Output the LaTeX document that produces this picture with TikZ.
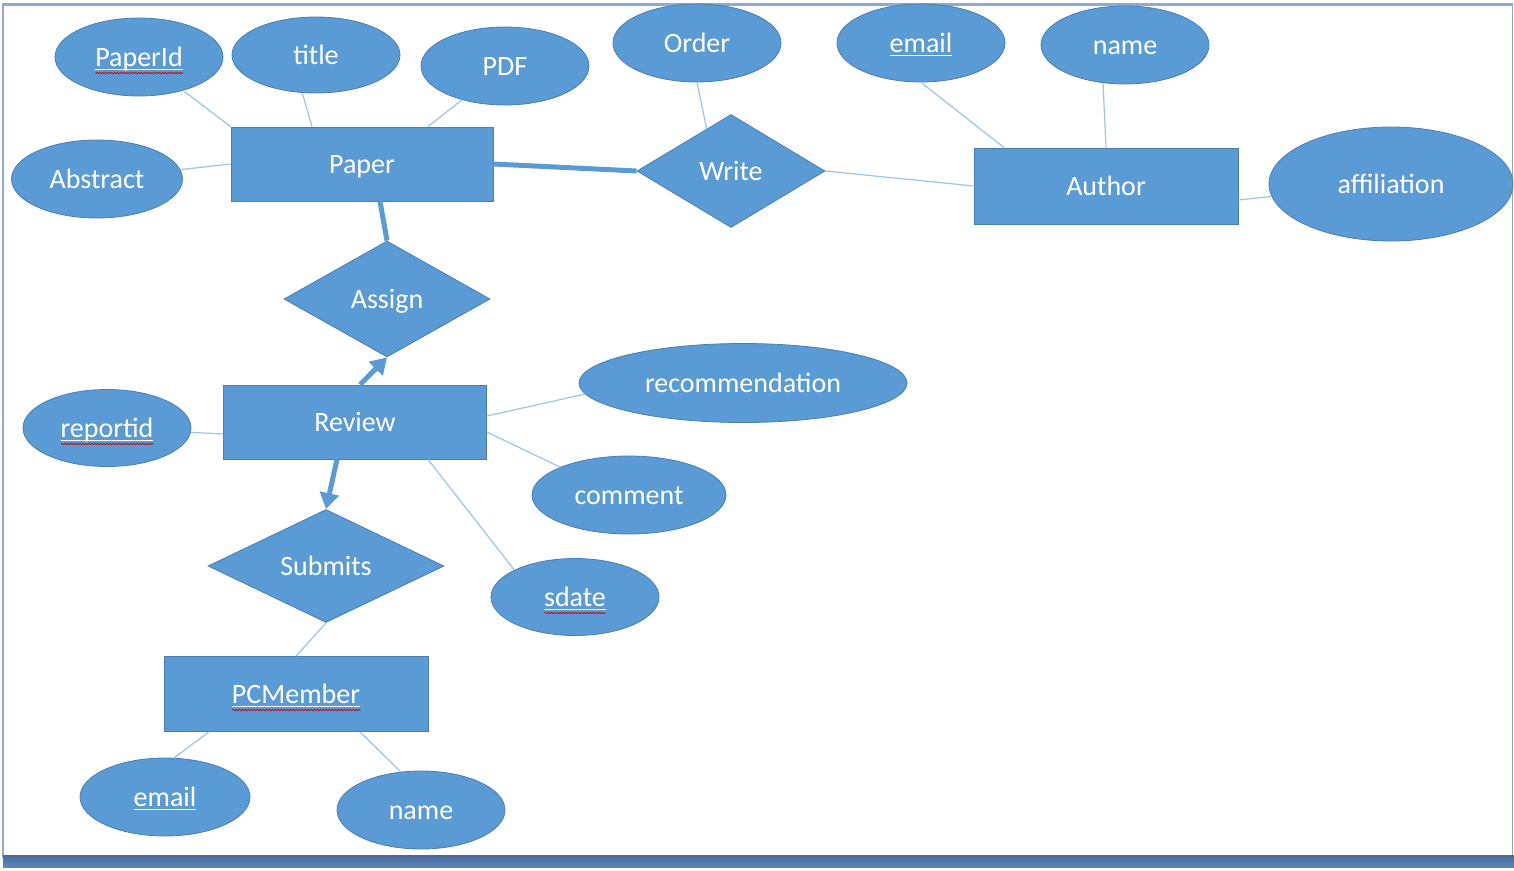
\documentclass[tikz,border=0pt]{standalone}
\usepackage{fontspec}
\setmainfont{Carlito}
\usetikzlibrary{shapes.geometric,arrows.meta,decorations.pathmorphing}

\definecolor{erfill}{HTML}{5B9BD5}
\definecolor{erborder}{HTML}{4A7EB0}
\definecolor{erline}{HTML}{9DC3E6}
\definecolor{framecol}{HTML}{8EA9D4}
\definecolor{bandtop}{HTML}{4A6896}
\definecolor{bandbot}{HTML}{5C86C0}

% underlined key attribute, and the red spell-check wave
\newsavebox\wordbox
\newcommand\keyattr[1]{\sbox\wordbox{#1}\rlap{\usebox\wordbox}\rule[-3.5pt]{\wd\wordbox}{1.1pt}}
\newcommand\typo[1]{\sbox\wordbox{\keyattr{#1}}\makebox[0pt][l]{\tikz[baseline=0pt,x=1pt,y=1pt]\draw[red!80!black,line width=0.7pt,decorate,decoration={snake,amplitude=0.8pt,segment length=3pt}] (0,-6.5) -- (\the\wd\wordbox,-6.5);}\usebox\wordbox}

\begin{document}
\begin{tikzpicture}[x=1pt,y=-1pt,
  every node/.style={font=\fontsize{28}{34}\selectfont, text=white, text height=22pt, text depth=3pt},
  entity/.style={rectangle, fill=erfill, draw=erborder, line width=0.8pt, minimum width=263pt, minimum height=74pt, inner sep=0pt},
  attr/.style={ellipse, fill=erfill, draw=erborder, line width=0.8pt, minimum width=168pt, minimum height=78pt, inner sep=0pt},
  rel/.style={diamond, fill=erfill, draw=erborder, line width=0.8pt, inner sep=0pt, aspect=1.7},
  link/.style={draw=erline, line width=1.2pt},
  heavy/.style={draw=erfill, line width=5pt},
  heavyarrow/.style={heavy, -{Triangle[width=19pt,length=16pt]}}]
\useasboundingbox (0,0) rectangle (1514,870);

% frame of the slide
\draw[framecol, line width=1.5pt] (3,858) -- (3,4) -- (1512.5,4) -- (1512.5,858);
\draw[framecol, line width=2.5pt] (3,4.5) -- (1512.5,4.5);
\shade[top color=bandtop, bottom color=bandbot] (3,855) rectangle (1514,867);

% entities
\node[entity, minimum width=262pt] (paper) at (362,164) {Paper};
\node[entity, minimum width=264pt, minimum height=76pt] (author) at (1106,186) {Author};
\node[entity] (review) at (355,422) {Review};
\node[entity, minimum width=264pt, minimum height=75pt] (pcmember) at (296,694) {\typo{PCMember}};

% relationships
\node[rel, minimum width=188pt, minimum height=113pt] (write) at (731,171) {Write};
\node[rel, minimum width=206pt, minimum height=116pt] (assign) at (387,299) {Assign};
\node[rel, minimum width=236pt, minimum height=113pt] (submits) at (326,566) {Submits};

% attributes
\node[attr] (paperid) at (139,57) {\typo{PaperId}};
\node[attr, minimum height=76pt] (title) at (316,55) {title};
\node[attr] (pdf) at (505,66) {PDF};
\node[attr, minimum width=171pt] (abstract) at (97,179) {Abstract};
\node[attr] (order) at (697,43) {Order};
\node[attr] (aemail) at (921,43) {\keyattr{email}};
\node[attr] (aname) at (1125,45) {name};
\node[attr, minimum width=244pt, minimum height=114pt] (affil) at (1391,184) {affiliation};
\node[attr, minimum height=77pt] (reportid) at (107,428) {\typo{reportid}};
\node[attr, minimum width=328pt, minimum height=79pt] (recomm) at (743,383) {recommendation};
\node[attr, minimum width=194pt] (comment) at (629,495) {comment};
\node[attr, minimum height=77pt] (sdate) at (575,597) {\typo{sdate}};
\node[attr, minimum width=170pt] (pemail) at (165,797) {\keyattr{email}};
\node[attr] (pname) at (421,810) {name};

% attribute links
\draw[link] (paperid) -- (paper.north west);
\draw[link] (title.250) -- ([xshift=-50pt]paper.north);
\draw[link] (pdf) -- ([xshift=66pt]paper.north);
\draw[link] (abstract) -- (paper.west);
\draw[link] (order.south) -- (write.120);
\draw[link] (aemail.south) -- ([xshift=-102pt]author.north);
\draw[link] (aname.240) -- (author.north);
\draw[link] ([yshift=-14pt]author.east) -- (affil);
\draw[link] (reportid) -- ([yshift=-12pt]review.west);
\draw[link] ([yshift=6pt]review.east) -- (recomm.184);
\draw[link] ([yshift=-10pt]review.east) -- (comment.158);
\draw[link] ([xshift=73pt]review.south) -- (sdate.156);
\draw[link] ([xshift=-87pt]pcmember.south) -- (pemail.77);
\draw[link] ([xshift=64pt]pcmember.south) -- (pname.118);

% relationship links
\draw[link] (write.east) -- (author.west);
\draw[link] (submits.south) -- (pcmember.north);
\draw[heavy] (paper.east) -- (write.west);
\draw[heavy] ([xshift=18pt]paper.south) -- (assign.north);
\draw[heavyarrow] ([xshift=5pt]review.north) -- (assign.south);
\draw[heavyarrow] ([xshift=-18pt]review.south) -- (submits.north);
\end{tikzpicture}
\end{document}
